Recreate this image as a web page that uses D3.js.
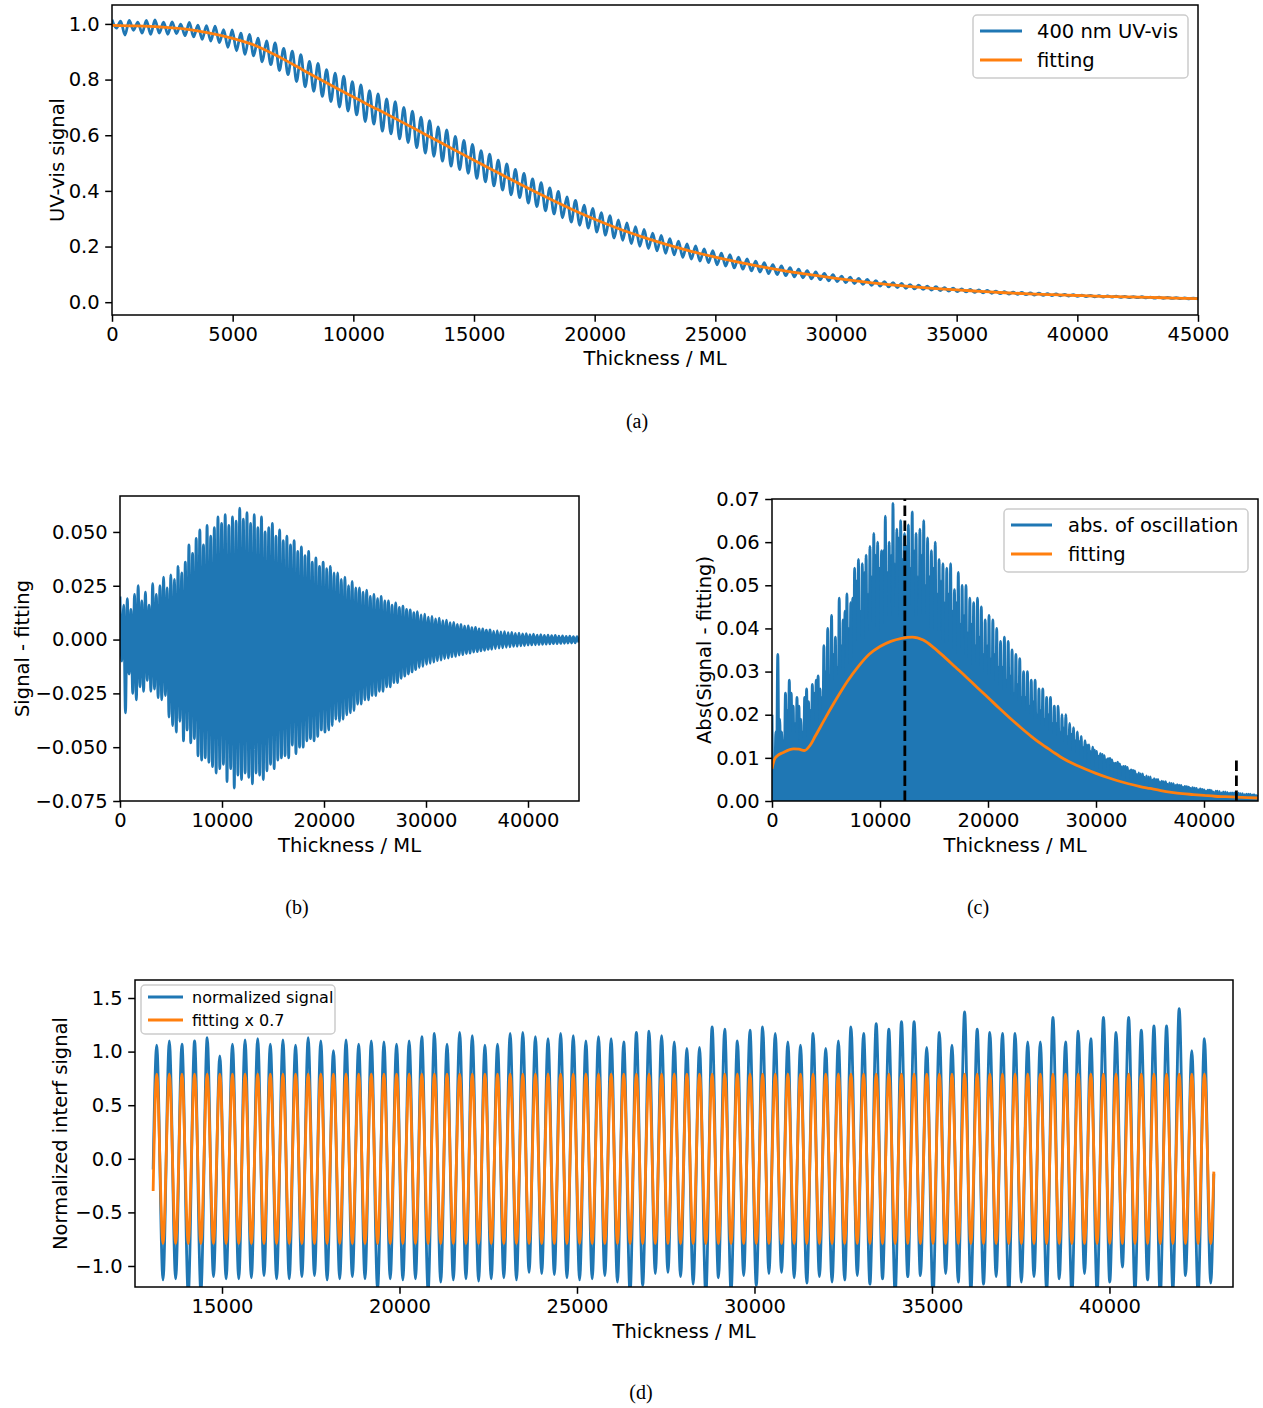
<!DOCTYPE html>
<html><head><meta charset="utf-8">
<script src="https://cdn.jsdelivr.net/npm/d3@7"></script>
<style>
body{margin:0;background:#fff}
svg{display:block}
text{font-family:"DejaVu Sans",sans-serif;fill:#000}
.cap{font-family:"Liberation Serif","DejaVu Serif",serif}
</style>
</head><body>
<svg id="chart" width="1263" height="1408"></svg>
<script>
// ---------------- data ----------------
// (a) smooth fitting curve of the 400 nm UV-vis signal
const fitAX = [0,1000,2000,3000,4000,5000,6000,7000,8000,9000,10000,11000,12000,13000,14000,15000,16000,17000,18000,19000,20000,21000,22000,23000,24000,25000,26000,27000,28000,29000,30000,31000,32000,33000,34000,35000,36000,37000,38000,39000,40000,41000,42000,43000,44000,45000];
const fitAY = [0.995,0.993,0.989,0.982,0.968,0.948,0.920,0.878,0.830,0.783,0.737,0.693,0.648,0.602,0.556,0.510,0.465,0.420,0.377,0.336,0.298,0.264,0.234,0.207,0.183,0.162,0.143,0.126,0.111,0.098,0.086,0.075,0.065,0.057,0.050,0.044,0.039,0.034,0.030,0.027,0.024,0.021,0.019,0.017,0.015,0.013];

// oscillation (signal - fitting): maxima and minima
const resMaxX = [3,359,714,1070,1425,1781,2137,2492,2848,3203,3559,3915,4270,4626,4981,5337,5693,6048,6404,6759,7115,7471,7826,8182,8537,8893,9249,9604,9960,10315,10671,11027,11382,11738,12093,12449,12805,13160,13516,13871,14227,14583,14938,15294,15649,16005,16361,16716,17072,17427,17783,18139,18494,18850,19205,19561,19917,20272,20628,20983,21339,21695,22050,22406,22761,23117,23473,23828,24184,24539,24895,25251,25606,25962,26317,26673,27029,27384,27740,28095,28451,28807,29162,29518,29873,30229,30585,30940,31296,31651,32007,32363,32718,33074,33429,33785,34141,34496,34852,35207,35563,35919,36274,36630,36985,37341,37697,38052,38408,38763,39119,39475,39830,40186,40541,40897,41253,41608,41964,42319,42675,43031,43386,43742,44097,44453,44809];
const resMaxY = [0.020,0.016,0.019,0.014,0.021,0.025,0.018,0.022,0.016,0.026,
 0.021,0.025,0.029,0.024,0.030,0.028,0.034,0.031,0.036,0.044,
 0.040,0.047,0.051,0.044,0.053,0.048,0.052,0.057,0.054,0.058,
 0.053,0.057,0.055,0.061,0.056,0.059,0.054,0.058,0.052,0.057,
 0.050,0.052,0.054,0.048,0.051,0.046,0.048,0.044,0.046,0.041,
 0.043,0.039,0.041,0.036,0.038,0.034,0.036,0.033,0.034,0.031,
 0.031,0.028,0.029,0.025,0.027,0.024,0.024,0.022,0.023,0.020,
 0.021,0.019,0.020,0.018,0.018,0.016,0.017,0.015,0.0155,0.014,
 0.0138,0.0125,0.013,0.0115,0.0118,0.0104,0.0108,0.0096,0.0099,0.0088,
 0.0090,0.0079,0.0080,0.0070,0.0071,0.0062,0.0063,0.0055,0.0056,0.0049,
 0.0050,0.0044,0.0045,0.0039,0.0041,0.0036,0.0037,0.0032,0.0033,0.0029,
 0.0030,0.0026,0.0027,0.0023,0.0025,0.0021,0.0023,0.0019,0.0021,0.0018,
 0.0019,0.0016,0.0017,0.0015,0.0016,0.0014,0.0013];
const resMinX = [181,536,892,1248,1603,1959,2314,2670,3026,3381,3737,4092,4448,4804,5159,5515,5870,6226,6582,6937,7293,7648,8004,8360,8715,9071,9426,9782,10138,10493,10849,11204,11560,11916,12271,12627,12982,13338,13694,14049,14405,14760,15116,15472,15827,16183,16538,16894,17250,17605,17961,18316,18672,19028,19383,19739,20094,20450,20806,21161,21517,21872,22228,22584,22939,23295,23650,24006,24362,24717,25073,25428,25784,26140,26495,26851,27206,27562,27918,28273,28629,28984,29340,29696,30051,30407,30762,31118,31474,31829,32185,32540,32896,33252,33607,33963,34318,34674,35030,35385,35741,36096,36452,36808,37163,37519,37874,38230,38586,38941,39297,39652,40008,40364,40719,41075,41430,41786,42142,42497,42853,43208,43564,43920,44275,44631,44986];
const resMinY = [-0.010,-0.034,-0.016,-0.025,-0.028,-0.022,-0.024,-0.019,-0.024,-0.023,
 -0.027,-0.028,-0.026,-0.036,-0.040,-0.043,-0.038,-0.047,-0.042,-0.048,
 -0.046,-0.054,-0.056,-0.055,-0.057,-0.059,-0.062,-0.060,-0.058,-0.066,
 -0.060,-0.069,-0.063,-0.065,-0.062,-0.064,-0.067,-0.062,-0.063,-0.065,
 -0.061,-0.058,-0.060,-0.056,-0.055,-0.054,-0.055,-0.049,-0.053,-0.050,
 -0.050,-0.047,-0.046,-0.047,-0.045,-0.042,-0.043,-0.042,-0.040,-0.037,
 -0.038,-0.037,-0.035,-0.034,-0.033,-0.030,-0.030,-0.028,-0.028,-0.026,
 -0.026,-0.024,-0.024,-0.022,-0.022,-0.020,-0.020,-0.018,-0.017,-0.016,
 -0.015,-0.014,-0.013,-0.0125,-0.0115,-0.011,-0.0105,-0.0098,-0.0095,-0.0088,
 -0.0086,-0.0080,-0.0078,-0.0072,-0.0070,-0.0065,-0.0063,-0.0058,-0.0056,-0.0052,
 -0.0050,-0.0046,-0.0045,-0.0042,-0.0040,-0.0038,-0.0036,-0.0034,-0.0032,-0.0031,
 -0.0029,-0.0028,-0.0026,-0.0025,-0.0024,-0.0023,-0.0022,-0.0021,-0.0020,-0.0019,
 -0.0019,-0.0018,-0.0017,-0.0016,-0.0016,-0.0015,-0.0014];

// (c) fitting of the absolute oscillation
const fitCX = [0,200,500,1000,2000,2500,3000,3500,4000,5000,6000,7000,8000,9000,10000,11000,12000,13000,14000,15000,16000,17000,18000,19000,20000,21000,22000,23000,24000,25000,26000,27000,28000,29000,30000,31000,32000,33000,34000,35000,36000,37000,38000,39000,40000,41000,42000,43000,44000,45000];
const fitCY = [0.0075,0.0095,0.0105,0.0112,0.0121,0.0120,0.0117,0.0128,0.0150,0.0195,0.0238,0.0278,0.0312,0.0340,0.0358,0.0370,0.0377,0.0380,0.0373,0.0355,0.0333,0.0310,0.0287,0.0263,0.0240,0.0216,0.0193,0.0171,0.0150,0.0131,0.0114,0.0098,0.0085,0.0074,0.0064,0.0055,0.0047,0.0040,0.0034,0.0029,0.0024,0.0020,0.0017,0.0015,0.0013,0.0011,0.0010,0.0009,0.0008,0.0007];
const markerX = [12300, 43000];
const markerTop = [0.07, 0.0095];

// (d) normalized interference signal (cycles 37..120 of the oscillation)
const normFirst = 37, normLast = 120;
const normMaxY = [1.06,1.10,1.07,1.10,1.13,0.96,1.07,1.11,1.12,1.07,1.11,1.06,1.13,1.10,1.01,1.11,1.07,1.10,1.09,1.07,1.10,1.14,1.17,1.07,1.18,1.15,1.06,1.07,1.17,1.18,
 1.14,1.12,1.17,1.15,1.10,1.14,1.12,1.09,1.18,1.19,1.15,1.09,1.03,1.04,1.23,1.21,1.10,1.20,1.23,1.17,1.09,1.06,1.17,1.03,1.10,1.23,1.17,1.26,1.21,1.28,
 1.28,1.04,1.18,1.06,1.37,1.21,1.18,1.17,1.17,1.09,1.09,1.32,1.09,1.19,1.12,1.32,1.18,1.32,1.20,1.24,1.24,1.40,1.01,1.12];
const normMinY = [-1.13,-1.12,-1.26,-1.24,-1.10,-1.12,-1.12,-1.11,-1.09,-1.12,-1.12,-1.10,-1.09,-1.13,-1.12,-1.10,-1.12,-1.22,-1.12,-1.13,-1.12,-1.23,-1.15,-1.13,-1.12,-1.14,-1.12,-1.11,-1.13,
 -1.06,-1.07,-1.08,-1.11,-1.13,-1.12,-1.09,-1.15,-1.25,-1.18,-1.07,-1.06,-1.10,-1.17,-1.27,-1.11,-1.24,-1.09,-1.18,-1.07,-1.06,-1.11,-1.16,-1.10,-1.15,-1.13,-1.09,-1.17,-1.12,-1.26,-1.10,
 -1.09,-1.28,-1.07,-1.15,-1.24,-1.17,-1.10,-1.26,-1.15,-1.10,-1.23,-1.12,-1.27,-1.07,-1.25,-1.15,-1.01,-1.24,-1.13,-1.29,-1.22,-1.09,-1.26,-1.16];
const normStart = [13060, -0.10], normEnd = [42940, -0.14];
const fitDLevels = [0.79, -0.79];
const fitDStart = [13060, -0.30], fitDEnd = [42940, -0.12];

// ticks
const ticksAX = [0,5000,10000,15000,20000,25000,30000,35000,40000,45000];
const ticksAY = [0,0.2,0.4,0.6,0.8,1.0];
const ticksBX = [0,10000,20000,30000,40000];
const ticksBY = [-0.075,-0.05,-0.025,0,0.025,0.05];
const ticksCY = [0,0.01,0.02,0.03,0.04,0.05,0.06,0.07];
const ticksDX = [15000,20000,25000,30000,35000,40000];
const ticksDY = [-1,-0.5,0,0.5,1,1.5];

// ---------------- drawing ----------------
const BLUE = "#1f77b4", ORANGE = "#ff7f0e";
const FS = 19.5, LW = 2.8;
const svg = d3.select("#chart");

function makePanel(id, box, xd, yd) {
  const x = d3.scaleLinear().domain(xd).range([box.l, box.r]);
  const y = d3.scaleLinear().domain(yd).range([box.b, box.t]);
  svg.append("clipPath").attr("id", "clip" + id).append("rect")
    .attr("x", box.l).attr("y", box.t).attr("width", box.r - box.l).attr("height", box.b - box.t);
  const g = svg.append("g");
  const plot = g.append("g").attr("clip-path", `url(#clip${id})`);
  return {x, y, g, plot, box};
}
function lineGen(p, sign) {
  const s = sign || 1;
  return d3.line().x(d => p.x(d[0])).y(d => p.y(s * d[1])).curve(d3.curveMonotoneX);
}
function drawLine(p, pts, color, sign, w) {
  p.plot.append("path").attr("d", lineGen(p, sign)(pts))
    .attr("fill", "none").attr("stroke", color).attr("stroke-width", w || LW)
    .attr("stroke-linejoin", "round").attr("stroke-linecap", "butt");
}
function finish(p, xt, yt, xf, yf, xl, yl, ylX, xlY) {
  const b = p.box;
  const ax = p.g.append("g").attr("transform", `translate(0,${b.b})`)
    .call(d3.axisBottom(p.x).tickValues(xt).tickSize(6.8).tickPadding(5.5).tickFormat(xf));
  const ay = p.g.append("g").attr("transform", `translate(${b.l},0)`)
    .call(d3.axisLeft(p.y).tickValues(yt).tickSize(6.8).tickPadding(5.5).tickFormat(yf));
  [ax, ay].forEach(a => {
    a.select(".domain").remove();
    a.selectAll("line").attr("stroke", "#000").attr("stroke-width", 1.5);
    a.selectAll("text").attr("font-size", FS).attr("font-family", "DejaVu Sans").attr("fill", "#000");
  });
  p.g.append("rect").attr("x", b.l).attr("y", b.t).attr("width", b.r - b.l).attr("height", b.b - b.t)
    .attr("fill", "none").attr("stroke", "#000").attr("stroke-width", 1.5);
  p.g.append("text").attr("x", (b.l + b.r) / 2).attr("y", xlY).attr("text-anchor", "middle")
    .attr("font-size", FS).text(xl);
  p.g.append("text").attr("transform", `translate(${ylX},${(b.t + b.b) / 2}) rotate(-90)`)
    .attr("text-anchor", "middle").attr("font-size", FS).text(yl);
}
function legend(p, box, items, fs, lx0, lx1, tx, ys) {
  const g = p.g.append("g");
  g.append("rect").attr("x", box[0]).attr("y", box[1]).attr("width", box[2]).attr("height", box[3])
    .attr("rx", 4).attr("fill", "#fff").attr("fill-opacity", 0.8).attr("stroke", "#ccc").attr("stroke-width", 1.5);
  items.forEach((it, i) => {
    g.append("line").attr("x1", lx0).attr("x2", lx1).attr("y1", ys[i]).attr("y2", ys[i])
      .attr("stroke", it[1]).attr("stroke-width", LW);
    g.append("text").attr("x", tx).attr("y", ys[i]).attr("dy", "0.36em").attr("font-size", fs).text(it[0]);
  });
}

const res = resMaxX.map((x, i) => [x, resMaxY[i]])
  .concat(resMinX.map((x, i) => [x, resMinY[i]]))
  .sort((a, b) => a[0] - b[0]);

// ----- (a)
const pA = makePanel("A", {l:112, r:1198, t:5, b:315}, [0, 45000], [-0.046, 1.068]);
const fitA = d3.scaleLinear().domain(fitAX).range(fitAY);
const sigA = res.map(d => [d[0], fitA(d[0]) + d[1]]);
drawLine(pA, sigA, BLUE);
drawLine(pA, fitAX.map((x, i) => [x, fitAY[i]]), ORANGE);
finish(pA, ticksAX, ticksAY, d3.format("d"), d3.format(".1f"), "Thickness / ML", "UV-vis signal", 64, 365);
legend(pA, [973, 15, 215, 63], [["400 nm UV-vis", BLUE], ["fitting", ORANGE]], FS, 980, 1022, 1037, [31, 60]);

// ----- (b)
const pB = makePanel("B", {l:120, r:579, t:496, b:801}, [0, 45000], [-0.075, 0.0667]);
drawLine(pB, res, BLUE);
finish(pB, ticksBX, ticksBY, d3.format("d"), d3.format(".3f"), "Thickness / ML", "Signal - fitting", 29, 852);

// ----- (c)
const pC = makePanel("C", {l:772, r:1258, t:499, b:801}, [0, 45000], [0, 0.07]);
drawLine(pC, res, BLUE, 1);
drawLine(pC, res, BLUE, -1);
drawLine(pC, fitCX.map((x, i) => [x, fitCY[i]]), ORANGE);
markerX.forEach((mx, i) => {
  pC.plot.append("line").attr("x1", pC.x(mx)).attr("x2", pC.x(mx))
    .attr("y1", pC.y(0)).attr("y2", pC.y(markerTop[i]))
    .attr("stroke", "#000").attr("stroke-width", LW).attr("stroke-dasharray", "10.5,4.5");
});
finish(pC, ticksBX, ticksCY, d3.format("d"), d3.format(".2f"), "Thickness / ML", "Abs(Signal - fitting)", 711, 852);
legend(pC, [1004, 509, 244, 63], [["abs. of oscillation", BLUE], ["fitting", ORANGE]], FS, 1011, 1052, 1068, [525, 554]);

// ----- (d)
const pD = makePanel("D", {l:135, r:1233, t:980, b:1287}, [12549, 43480], [-1.196, 1.668]);
const normPts = [normStart]
  .concat(normMaxY.map((v, i) => [resMaxX[normFirst + i], v]))
  .concat(normMinY.map((v, i) => [resMinX[normFirst + i], v]))
  .concat([normEnd]).sort((a, b) => a[0] - b[0]);
const fitDPts = [fitDStart]
  .concat(normMaxY.map((v, i) => [resMaxX[normFirst + i], fitDLevels[0]]))
  .concat(normMinY.map((v, i) => [resMinX[normFirst + i], fitDLevels[1]]))
  .concat([fitDEnd]).sort((a, b) => a[0] - b[0]);
drawLine(pD, normPts, BLUE);
drawLine(pD, fitDPts, ORANGE);
finish(pD, ticksDX, ticksDY, d3.format("d"), d3.format(".1f"), "Thickness / ML", "Normalized interf signal", 67, 1338);
legend(pD, [141, 985, 194, 49], [["normalized signal", BLUE], ["fitting x 0.7", ORANGE]], 16, 148, 183, 192, [997, 1020]);

// ----- captions
[["(a)", 637, 428], ["(b)", 297, 914], ["(c)", 978, 914], ["(d)", 641, 1399]].forEach(c => {
  svg.append("text").attr("class", "cap").attr("x", c[1]).attr("y", c[2])
    .attr("text-anchor", "middle").attr("font-size", 20).text(c[0]);
});
</script>
</body></html>
